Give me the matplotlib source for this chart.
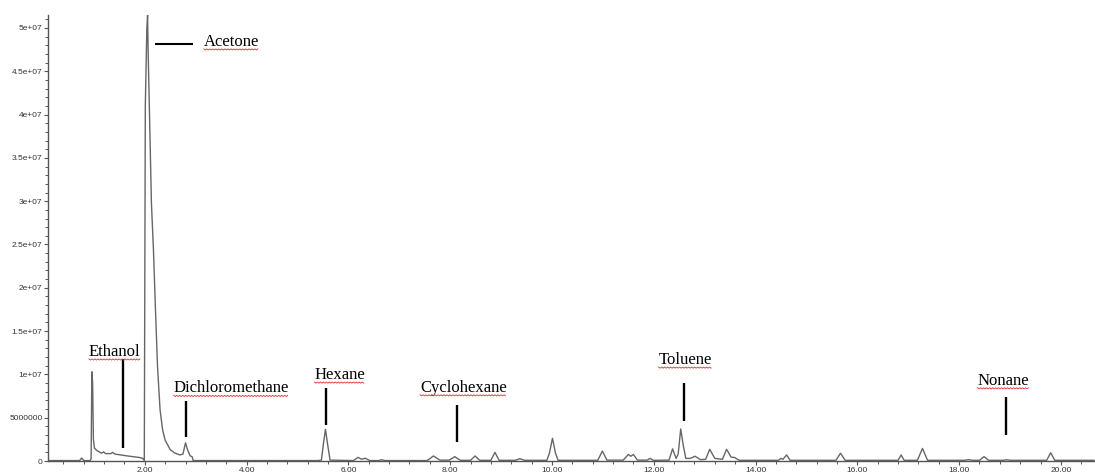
"""GC-MS chromatogram with labelled solvent peaks."""
import numpy as np
import matplotlib
matplotlib.use("Agg")
import matplotlib.pyplot as plt
from matplotlib.lines import Line2D
from matplotlib.ticker import MultipleLocator, FuncFormatter, FixedLocator

# retention time (min) and abundance (millions of counts)
rt_min = [
    0.10, 0.60, 0.72, 0.76, 0.80, 0.93, 0.945, 0.96, 0.975, 0.99, 1.01, 1.06,
    1.15, 1.19, 1.23, 1.33, 1.37, 1.41, 1.64, 1.90, 1.96, 1.99,
    2.01, 2.04, 2.055, 2.065, 2.10, 2.13, 2.17, 2.21, 2.25, 2.30, 2.35, 2.40,
    2.50, 2.59, 2.69, 2.75, 2.80, 2.84, 2.89, 2.93, 2.95,
    5.40, 5.47, 5.51, 5.55, 5.59, 5.64,
    6.10, 6.19, 6.26, 6.33, 6.42, 6.60, 6.65, 6.72,
    7.55, 7.67, 7.80, 7.98, 8.09, 8.20, 8.40, 8.49, 8.58, 8.80, 8.88, 8.96,
    9.28, 9.37, 9.46, 9.90, 9.95, 10.01, 10.07, 10.12,
    10.90, 10.99, 11.08, 11.40, 11.50, 11.55, 11.60, 11.68, 11.87, 11.93, 11.99,
    12.30, 12.37, 12.44, 12.48, 12.53, 12.58, 12.63, 12.72, 12.81, 12.92,
    13.02, 13.10, 13.20, 13.35, 13.43, 13.52, 13.59, 13.68,
    14.45, 14.50, 14.54, 14.61, 14.68, 15.58, 15.67, 15.76,
    16.80, 16.86, 16.92, 17.18, 17.28, 17.38, 18.10, 18.19, 18.27,
    18.40, 18.49, 18.58, 18.88, 18.93, 19.00, 19.72, 19.80, 19.88, 20.65,
]
abund_m = [
    0.05, 0.05, 0.05, 0.35, 0.05, 0.05, 0.30, 10.3, 9.0, 2.5, 1.5, 1.2,
    0.9, 1.05, 0.85, 0.85, 1.0, 0.8, 0.6, 0.4, 0.3, 0.05,
    41.0, 50.0, 51.5, 47.5, 38.0, 29.8, 24.4, 17.4, 10.9, 5.9, 3.6, 2.4,
    1.3, 0.92, 0.7, 0.8, 2.1, 1.3, 0.6, 0.5, 0.05,
    0.05, 0.10, 2.0, 3.66, 2.0, 0.10,
    0.05, 0.42, 0.20, 0.32, 0.05, 0.05, 0.15, 0.05,
    0.05, 0.58, 0.10, 0.10, 0.50, 0.08, 0.08, 0.58, 0.08, 0.08, 1.0, 0.08,
    0.08, 0.27, 0.08, 0.08, 0.9, 2.62, 0.9, 0.08,
    0.08, 1.15, 0.10, 0.10, 0.75, 0.55, 0.75, 0.10, 0.10, 0.30, 0.08,
    0.10, 1.40, 0.30, 0.80, 3.70, 1.80, 0.30, 0.30, 0.55, 0.15,
    0.20, 1.35, 0.30, 0.20, 1.35, 0.45, 0.40, 0.08,
    0.08, 0.30, 0.20, 0.70, 0.08, 0.08, 0.90, 0.08,
    0.08, 0.70, 0.08, 0.08, 1.45, 0.08, 0.08, 0.15, 0.08,
    0.08, 0.50, 0.08, 0.08, 0.15, 0.08, 0.08, 0.95, 0.08, 0.08,
]

# compound labels: name, text centre (min, 1e6), marker line x and y-span
names = ["Ethanol", "Dichloromethane", "Hexane", "Cyclohexane", "Toluene", "Nonane"]
label_x = [1.41, 3.70, 5.83, 8.26, 12.62, 18.87]
label_y = [12.6, 8.39, 9.93, 8.46, 11.66, 9.27]
mark_x = [1.58, 2.81, 5.56, 8.13, 12.60, 18.93]
mark_lo = [1.47, 2.81, 4.16, 2.23, 4.65, 3.00]
mark_hi = [11.74, 6.96, 8.39, 6.47, 9.00, 7.36]

# acetone is labelled with a horizontal leader instead
acetone_x = [2.20, 2.95]
acetone_y = 48.2
acetone_text_x = 3.16
acetone_text_y = 48.4

W, H = 1095, 472
fig = plt.figure(figsize=(W / 100, H / 100), dpi=100)
ax = fig.add_axes([48 / W, 11 / H, 1 - 48 / W, 446 / H])

t = np.array(rt_min)
y = np.array(abund_m) * 1e6
ax.plot(t, y, color="#666666", lw=1.0)

ax.set_xlim(0.098, 20.67)
ax.set_ylim(0, 5.15e7)

# marker lines + labels
serif = dict(family="Liberation Serif", fontsize=12, color="black")
texts = []
for nm, lx, ly, mx, lo, hi in zip(names, label_x, label_y, mark_x, mark_lo, mark_hi):
    ax.plot([mx, mx], [lo * 1e6, hi * 1e6], color="black", lw=1.7,
            solid_capstyle="butt")
    texts.append(ax.text(lx, ly * 1e6, nm, ha="center", va="center", **serif))
ax.plot(acetone_x, [acetone_y * 1e6] * 2, color="black", lw=1.5,
        solid_capstyle="butt")
texts.append(ax.text(acetone_text_x, acetone_text_y * 1e6, "Acetone",
                     ha="left", va="center", **serif))

# axes styling
for s in ("top", "right"):
    ax.spines[s].set_visible(False)
for s in ("left", "bottom"):
    ax.spines[s].set_color("#555555")
    ax.spines[s].set_linewidth(1.0)

ax.yaxis.set_major_locator(MultipleLocator(5e6))
ax.yaxis.set_minor_locator(MultipleLocator(1e6))
ax.yaxis.set_major_formatter(
    FuncFormatter(lambda v, p: ("%g" % v) if v >= 1e7 else "%d" % v))
ax.xaxis.set_major_locator(FixedLocator(np.arange(2, 21, 2)))
ax.xaxis.set_minor_locator(MultipleLocator(0.4))
ax.xaxis.set_major_formatter(FuncFormatter(lambda v, p: "%.2f" % v))

ax.tick_params(axis="both", which="major", length=3, width=0.8, color="#555555",
               labelsize=6, labelcolor="#333333", pad=1)
ax.tick_params(axis="both", which="minor", length=2, width=0.7, color="#555555")
for lab in ax.get_xticklabels() + ax.get_yticklabels():
    lab.set_family("Liberation Sans")

# red wavy spell-check underline under each label
fig.canvas.draw()
r = fig.canvas.get_renderer()
for tx in texts:
    bb = tx.get_window_extent(r)
    xs = np.arange(bb.x0, bb.x1, 1.5)
    ys = bb.y0 + 1.0 + np.where(np.arange(len(xs)) % 2 == 0, 0.0, -1.2)
    fig.add_artist(Line2D(xs, ys, transform=None, color="#e03030", lw=0.6))

fig.savefig("out.png", dpi=100)
